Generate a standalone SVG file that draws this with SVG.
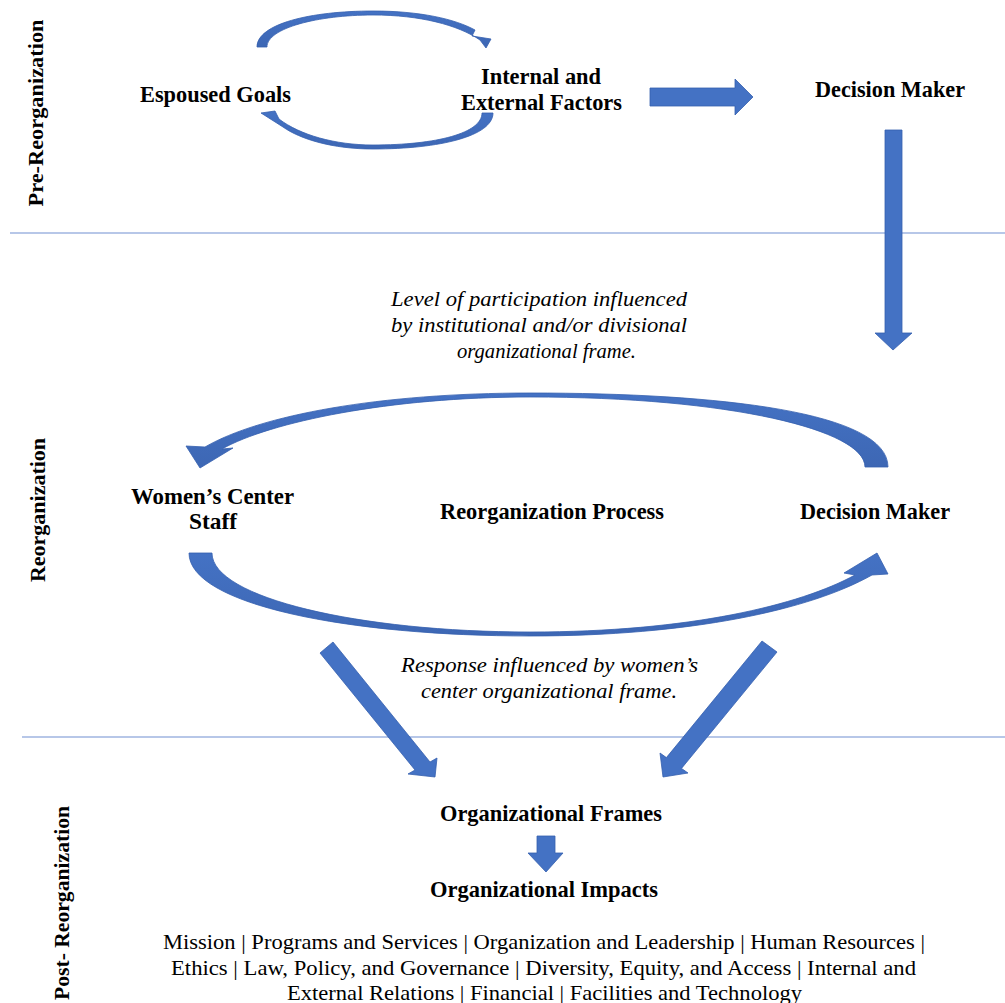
<svg xmlns="http://www.w3.org/2000/svg" width="1005" height="1003" viewBox="0 0 1005 1003">
<style>
.b{font-family:"Liberation Serif","Times New Roman",serif;font-weight:bold;font-size:24px;fill:#000}
.i{font-family:"Liberation Serif","Times New Roman",serif;font-style:italic;font-size:22px;fill:#000}
.r{font-family:"Liberation Serif","Times New Roman",serif;font-size:22px;fill:#000}
.s{font-family:"Liberation Serif","Times New Roman",serif;font-weight:bold;font-size:22px;fill:#000}
.arw{fill:#4472C4;stroke:#3560AE;stroke-width:0.8;stroke-linejoin:round}
.carw{fill:url(#cg);stroke:#3560AE;stroke-width:0.8;stroke-linejoin:round}
.sep{stroke:#9FB4E0;stroke-width:1.5;fill:none}
</style>
<defs>
<linearGradient id="cg" x1="0" y1="0" x2="0" y2="1">
<stop offset="0" stop-color="#4472C4"/>
<stop offset="1" stop-color="#3D67B4"/>
</linearGradient>
</defs>
<rect width="1005" height="1003" fill="#fff"/>
<g id="separators">
<line class="sep" x1="10" y1="233" x2="1005" y2="233"/>
<line class="sep" x1="22" y1="737" x2="1005" y2="737"/>
</g>
<g id="phase-labels">
<text class="s" transform="translate(43,113) rotate(-90)" text-anchor="middle" textLength="187" lengthAdjust="spacingAndGlyphs">Pre-Reorganization</text>
<text class="s" transform="translate(45,510) rotate(-90)" text-anchor="middle" textLength="144" lengthAdjust="spacingAndGlyphs">Reorganization</text>
<text class="s" transform="translate(69,903) rotate(-90)" text-anchor="middle" textLength="194" lengthAdjust="spacingAndGlyphs">Post- Reorganization</text>
</g>
<g id="connectors">
<path class="carw" d="M257,47 C257,24 310,11 373,11 C420,11 455,19 475,30 L472,36 L491,39 L486,48 L480,40 C458,25 420,15 373,15 C318,15 267,28 267,47 Z"/>
<path class="carw" d="M493,113 C493,136 440,149 373,149 C332,149 300,139 283,127 L261,113 L275,111 L279,119 C300,135 335,145 373,145 C437,145 482,133 482,113 Z"/>
<polygon class="arw" points="650,88 735,88 735,79 753,97 735,115 735,106 650,106"/>
<polygon class="arw" points="885,130 902,130 902,333 912,333 893,350 875,333 885,333"/>
<path class="carw" d="M888,467 C888,412 720,393 530,393 C380,393 260,415 205,447 L186,446 L200,468 L233,448 L222,449 C270,422 390,397 530,397 C730,397 865,430 865,467 Z"/>
<path class="carw" d="M189,553 C189,605 350,636 530,636 C690,636 810,610 872,575 L888,574 L877,553 L844,573 L855,575 C800,605 690,632 530,632 C360,632 212,598 212,553 Z"/>
<polygon class="arw" points="320,653 333,642 430,762 437,758 435,777 408,774 415,770"/>
<polygon class="arw" points="762,641 777,652 681.5,768.4 688,773 663,777 660,753 666.4,757.6"/>
<polygon class="arw" points="537,836 555,836 555,853 563,853 546,872 528,853 537,853"/>
</g>
<g id="espoused-goals"><text class="b" x="215.5" y="102" text-anchor="middle" textLength="151" lengthAdjust="spacingAndGlyphs">Espoused Goals</text></g>
<g id="internal-external-factors">
<text class="b" x="541" y="84" text-anchor="middle" textLength="120" lengthAdjust="spacingAndGlyphs">Internal and</text>
<text class="b" x="541.5" y="110" text-anchor="middle" textLength="161" lengthAdjust="spacingAndGlyphs">External Factors</text>
</g>
<g id="decision-maker-pre"><text class="b" x="890" y="97" text-anchor="middle" textLength="150" lengthAdjust="spacingAndGlyphs">Decision Maker</text></g>
<g id="participation-note">
<text class="i" x="539" y="306" text-anchor="middle" textLength="296" lengthAdjust="spacingAndGlyphs">Level of participation influenced</text>
<text class="i" x="539" y="332" text-anchor="middle" textLength="296" lengthAdjust="spacingAndGlyphs">by institutional and/or divisional</text>
<text class="i" x="546.5" y="358" text-anchor="middle" textLength="179" lengthAdjust="spacingAndGlyphs">organizational frame.</text>
</g>
<g id="womens-center-staff">
<text class="b" x="212.5" y="504" text-anchor="middle" textLength="163" lengthAdjust="spacingAndGlyphs">Women’s Center</text>
<text class="b" x="213" y="529" text-anchor="middle" textLength="48" lengthAdjust="spacingAndGlyphs">Staff</text>
</g>
<g id="reorganization-process"><text class="b" x="552" y="519" text-anchor="middle" textLength="224" lengthAdjust="spacingAndGlyphs">Reorganization Process</text></g>
<g id="decision-maker-reorg"><text class="b" x="875" y="519" text-anchor="middle" textLength="150" lengthAdjust="spacingAndGlyphs">Decision Maker</text></g>
<g id="response-note">
<text class="i" x="549.5" y="672" text-anchor="middle" textLength="297" lengthAdjust="spacingAndGlyphs">Response influenced by women’s</text>
<text class="i" x="549" y="698" text-anchor="middle" textLength="256" lengthAdjust="spacingAndGlyphs">center organizational frame.</text>
</g>
<g id="organizational-frames"><text class="b" x="551" y="821" text-anchor="middle" textLength="222" lengthAdjust="spacingAndGlyphs">Organizational Frames</text></g>
<g id="organizational-impacts"><text class="b" x="544" y="897" text-anchor="middle" textLength="228" lengthAdjust="spacingAndGlyphs">Organizational Impacts</text></g>
<g id="impact-areas">
<text class="r" x="544" y="949" text-anchor="middle" textLength="762" lengthAdjust="spacingAndGlyphs">Mission | Programs and Services | Organization and Leadership | Human Resources |</text>
<text class="r" x="543.5" y="975" text-anchor="middle" textLength="745" lengthAdjust="spacingAndGlyphs">Ethics | Law, Policy, and Governance | Diversity, Equity, and Access | Internal and</text>
<text class="r" x="544.5" y="1000" text-anchor="middle" textLength="515" lengthAdjust="spacingAndGlyphs">External Relations | Financial | Facilities and Technology</text>
</g>
</svg>
